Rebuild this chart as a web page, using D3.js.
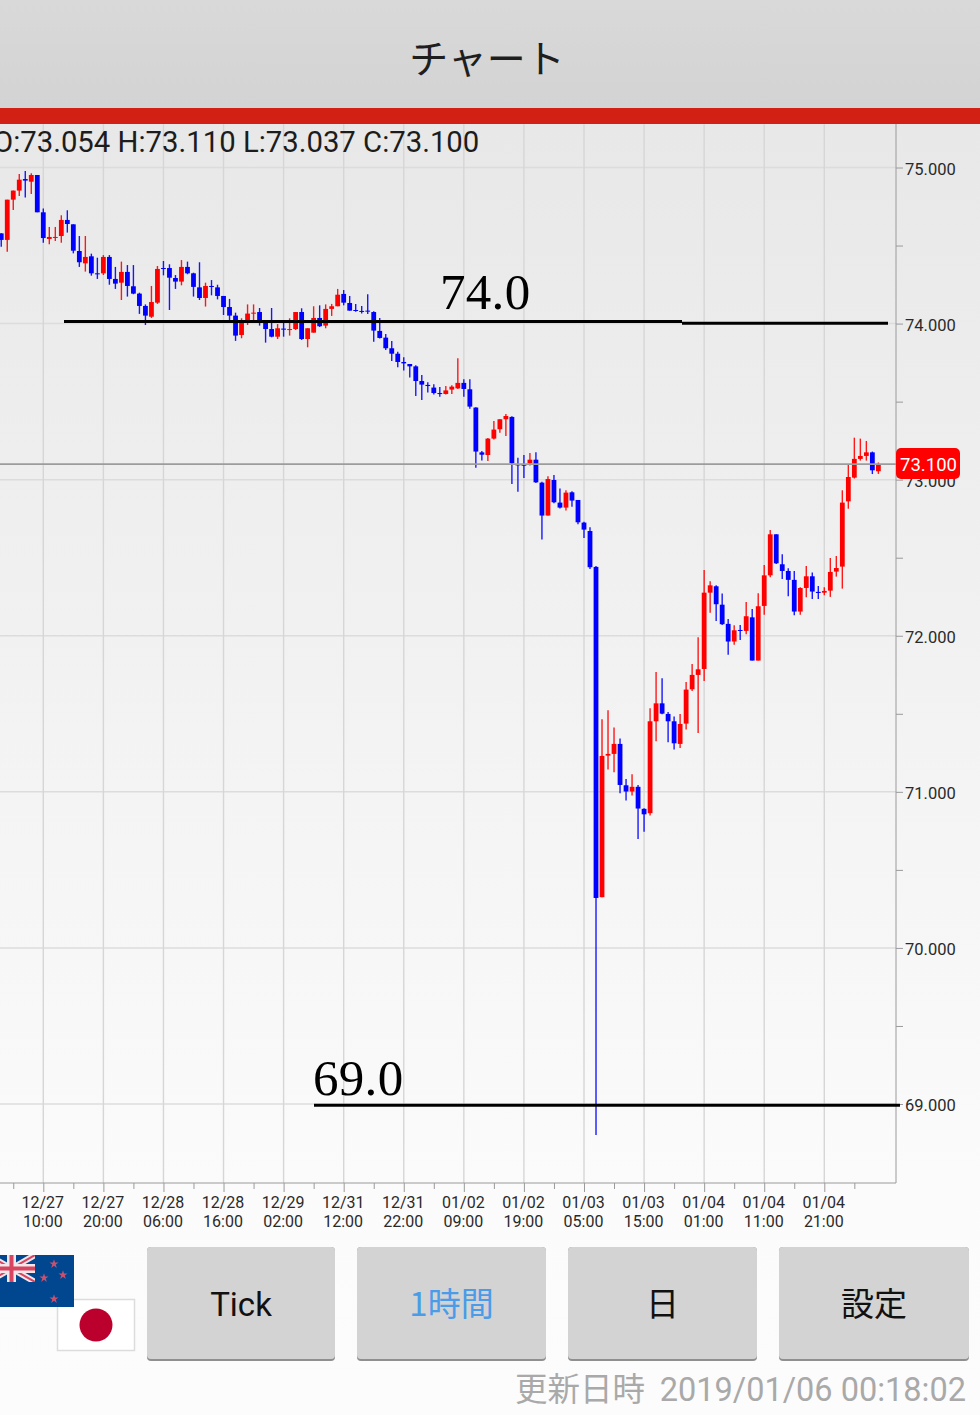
<!DOCTYPE html>
<html><head><meta charset="utf-8"><style>html,body{margin:0;padding:0;background:#fbfbfb;overflow:hidden}svg{display:block}</style>
<script src="https://cdn.jsdelivr.net/npm/d3@7"></script></head><body><svg id="c" width="980" height="1415"></svg>
<script>
const opens=[74.578,74.536,74.794,74.852,74.926,74.909,74.952,74.713,74.542,74.551,
74.561,74.664,74.636,74.465,74.386,74.431,74.322,74.322,74.427,74.286,
74.262,74.331,74.239,74.192,74.113,74.044,74.134,74.356,74.356,74.292,
74.269,74.363,74.322,74.232,74.164,74.241,74.232,74.177,74.106,74.051,
73.927,74.006,74.064,74.074,74.012,73.965,73.916,73.968,73.961,73.965,
74.074,73.901,73.942,74.036,73.987,74.094,74.111,74.190,74.132,74.087,
74.081,74.083,74.074,73.953,73.910,73.842,73.807,73.754,73.741,73.726,
73.632,73.607,73.590,73.555,73.549,73.577,73.585,73.620,73.579,73.462,
73.175,73.158,73.263,73.323,73.387,73.402,73.098,73.096,73.105,73.128,
72.981,72.770,72.998,72.853,72.821,72.919,72.870,72.725,72.671,72.441,
70.325,71.232,71.243,71.307,71.042,71.002,71.032,70.891,70.863,71.452,
71.567,71.499,71.452,71.307,71.437,71.657,71.749,71.787,72.276,72.317,
72.199,72.076,71.963,72.037,72.031,72.118,71.841,72.191,72.387,72.650,
72.458,72.415,72.358,72.155,72.306,72.381,72.281,72.276,72.289,72.411,
72.443,72.861,73.013,73.133,73.152,73.175,73.054];
const highs=[74.578,74.794,74.852,74.958,74.978,74.963,74.952,74.738,74.619,74.619,
74.694,74.726,74.636,74.561,74.561,74.448,74.422,74.439,74.439,74.363,
74.397,74.375,74.375,74.198,74.123,74.241,74.369,74.401,74.380,74.311,
74.407,74.397,74.326,74.393,74.262,74.279,74.249,74.177,74.158,74.070,
74.034,74.123,74.123,74.100,74.023,74.100,73.997,74.012,74.034,74.074,
74.098,73.970,74.111,74.117,74.123,74.126,74.222,74.215,74.177,74.126,
74.113,74.188,74.079,74.036,73.933,73.889,73.820,73.784,73.741,73.733,
73.671,73.624,73.611,73.594,73.600,73.605,73.778,73.643,73.643,73.464,
73.184,73.267,73.376,73.387,73.421,73.406,73.141,73.158,73.171,73.175,
72.987,73.022,73.030,72.943,72.932,72.926,72.870,72.731,72.695,72.447,
71.465,71.523,71.412,71.341,71.083,71.113,71.044,70.895,71.535,71.768,
71.728,71.512,71.482,71.499,71.704,71.819,71.990,72.422,72.349,72.323,
72.270,72.108,72.067,72.069,72.217,72.172,72.272,72.454,72.678,72.650,
72.522,72.432,72.415,72.311,72.447,72.405,72.319,72.311,72.498,72.511,
72.932,73.094,73.269,73.263,73.248,73.180,73.110];
const lows=[74.493,74.461,74.728,74.817,74.807,74.830,74.713,74.518,74.508,74.529,
74.518,74.583,74.450,74.363,74.333,74.307,74.286,74.311,74.249,74.222,
74.151,74.173,74.188,74.062,73.991,74.036,74.126,74.309,74.087,74.222,
74.245,74.316,74.173,74.151,74.109,74.181,74.155,74.055,74.023,73.889,
73.906,73.991,74.012,73.987,73.878,73.912,73.901,73.916,73.923,73.959,
73.895,73.848,73.942,73.978,73.970,74.049,74.111,74.117,74.083,74.076,
74.064,74.062,73.884,73.904,73.831,73.760,73.720,73.699,73.654,73.536,
73.511,73.558,73.545,73.532,73.545,73.549,73.581,73.532,73.455,73.077,
73.122,73.120,73.257,73.301,73.280,72.972,72.923,73.011,73.090,72.979,
72.616,72.770,72.849,72.815,72.802,72.827,72.714,72.627,72.428,68.802,
70.325,71.143,71.125,70.991,70.944,70.976,70.698,70.745,70.848,71.324,
71.497,71.318,71.271,71.281,71.399,71.646,71.377,71.710,72.148,72.095,
72.069,71.879,71.943,71.973,72.010,71.841,71.841,72.135,72.375,72.460,
72.364,72.253,72.131,72.135,72.247,72.236,72.236,72.259,72.249,72.379,
72.302,72.814,73.007,73.122,73.122,73.036,73.037];
const closes=[74.536,74.794,74.852,74.922,74.916,74.952,74.713,74.548,74.555,74.555,
74.664,74.638,74.467,74.393,74.427,74.322,74.316,74.427,74.286,74.256,
74.331,74.241,74.192,74.113,74.051,74.138,74.350,74.352,74.294,74.269,
74.363,74.322,74.235,74.164,74.241,74.235,74.177,74.106,74.051,73.923,
74.023,74.064,74.070,74.012,73.965,73.916,73.970,73.961,73.965,74.074,
73.901,73.970,74.036,73.983,74.094,74.111,74.185,74.134,74.083,74.081,
74.076,74.079,73.955,73.908,73.842,73.807,73.754,73.745,73.726,73.632,
73.609,73.600,73.555,73.549,73.572,73.596,73.620,73.581,73.468,73.180,
73.160,73.263,73.321,73.387,73.408,73.105,73.094,73.090,73.128,72.983,
72.770,73.004,72.855,72.821,72.917,72.866,72.727,72.680,72.439,70.320,
71.230,71.243,71.307,71.044,71.002,71.032,70.893,70.856,71.452,71.567,
71.501,71.452,71.311,71.435,71.655,71.749,71.785,72.276,72.323,72.202,
72.074,71.963,72.035,72.033,72.125,71.841,72.189,72.387,72.650,72.464,
72.415,72.358,72.155,72.306,72.381,72.283,72.274,72.287,72.409,72.434,
72.853,73.017,73.133,73.152,73.175,73.060,73.100];
const tickDates=["12/27","12/27","12/28","12/28","12/29","12/31","12/31","01/02","01/02","01/03","01/03","01/04","01/04","01/04"];
const tickTimes=["10:00","20:00","06:00","16:00","02:00","12:00","22:00","09:00","19:00","05:00","15:00","01:00","11:00","21:00"];
const priceTicks=[69,70,71,72,73,74,75];
const minorPriceTicks=[69.5,70.5,71.5,72.5,73.5,74.5];
const lastPrice=73.100;
const ohlcText="O:73.054 H:73.110 L:73.037 C:73.100";
const buttons=["Tick","1時間","日","設定"];

const svg=d3.select("#c");
const FONT="Roboto, sans-serif", CJK="'Noto Sans CJK JP', sans-serif", SERIF="'Liberation Serif', serif";
const plotR=896, plotB=1183, plotT=124;
const x=d3.scaleLinear().domain([7,137]).range([43.3,824.3]);
const y=d3.scaleLinear().domain([69,75]).range([1104,167.5]);

const defs=svg.append("defs");
const g1=defs.append("linearGradient").attr("id","bg").attr("x1",0).attr("x2",0).attr("y1",0).attr("y2",1);
g1.append("stop").attr("offset",0).attr("stop-color","#e8e8e8");
g1.append("stop").attr("offset",.82).attr("stop-color","#fbfbfb");
g1.append("stop").attr("offset",1).attr("stop-color","#fcfcfc");
const g2=defs.append("linearGradient").attr("id","hd").attr("x1",0).attr("x2",0).attr("y1",0).attr("y2",1);
g2.append("stop").attr("offset",0).attr("stop-color","#d9d9d9");
g2.append("stop").attr("offset",1).attr("stop-color","#d3d3d3");
defs.append("clipPath").attr("id","nz").append("rect").attr("x",0).attr("y",1255).attr("width",74).attr("height",52);
defs.append("clipPath").attr("id","uj").append("rect").attr("x",-12).attr("y",1255).attr("width",47).attr("height",27);

svg.append("rect").attr("x",0).attr("y",124).attr("width",980).attr("height",1291).attr("fill","url(#bg)");
svg.append("rect").attr("width",980).attr("height",108).attr("fill","url(#hd)");
svg.append("rect").attr("y",108).attr("width",980).attr("height",16).attr("fill","#d32014");
svg.append("text").attr("x",487).attr("y",73).attr("text-anchor","middle").attr("font-family",CJK).attr("font-size",39).attr("fill","#1e1e1e").text("チャート");

// grid
const idx=d3.range(opens.length);
const major=tickDates.map((d,i)=>7+i*10);
const minor=major.map(d=>d-5).concat([142]);
svg.append("g").selectAll("line").data(priceTicks).join("line")
 .attr("x1",0).attr("x2",plotR).attr("y1",d=>y(d)).attr("y2",d=>y(d)).attr("stroke","#dcdcdc").attr("stroke-width",1.5);
svg.append("g").selectAll("line").data(major).join("line")
 .attr("x1",d=>x(d)).attr("x2",d=>x(d)).attr("y1",plotT).attr("y2",plotB).attr("stroke","#d6d6d6").attr("stroke-width",1.4);

// x axis
const xAxis=d3.axisBottom(x).tickValues(major).tickSize(9).tickFormat("");
const gx=svg.append("g").attr("transform",`translate(0,${plotB})`).call(xAxis);
gx.select(".domain").remove();
gx.selectAll("line").attr("stroke","#9a9a9a").attr("stroke-width",1);
const gxm=svg.append("g").attr("transform",`translate(0,${plotB})`).call(d3.axisBottom(x).tickValues(minor).tickSize(6).tickFormat(""));
gxm.select(".domain").remove();
gxm.selectAll("line").attr("stroke","#9a9a9a").attr("stroke-width",1);
svg.append("line").attr("x1",0).attr("x2",plotR).attr("y1",plotB).attr("y2",plotB).attr("stroke","#9a9a9a").attr("stroke-width",1);
const xl=svg.append("g").attr("font-family",FONT).attr("font-size",16).attr("fill","#2a2a2a").attr("text-anchor","middle");
xl.selectAll("text.d").data(major).join("text").attr("class","d").attr("x",d=>x(d)-0.5).attr("y",1208).text((d,i)=>tickDates[i]);
xl.selectAll("text.t").data(major).join("text").attr("class","t").attr("x",d=>x(d)-0.5).attr("y",1227).text((d,i)=>tickTimes[i]);

// y axis
const gy=svg.append("g").attr("transform",`translate(${plotR},0)`).call(d3.axisRight(y).tickValues(priceTicks).tickSize(7).tickPadding(2).tickFormat(d3.format(".3f")));
gy.select(".domain").remove();
gy.selectAll("line").attr("stroke","#9a9a9a").attr("stroke-width",1);
gy.selectAll("text").attr("font-family",FONT).attr("font-size",16.5).attr("fill","#2a2a2a").attr("dy","0.4em");
const gym=svg.append("g").attr("transform",`translate(${plotR},0)`).call(d3.axisRight(y).tickValues(minorPriceTicks).tickSize(7).tickFormat(""));
gym.select(".domain").remove();
gym.selectAll("line").attr("stroke","#9a9a9a").attr("stroke-width",1);
svg.append("line").attr("x1",plotR).attr("x2",plotR).attr("y1",plotT).attr("y2",plotB).attr("stroke","#9a9a9a").attr("stroke-width",1);

// candles
const col=i=>closes[i]>=opens[i]?"#ff0000":"#0000ff";
svg.append("g").selectAll("line").data(idx).join("line")
 .attr("x1",i=>x(i)).attr("x2",i=>x(i)).attr("y1",i=>y(highs[i])).attr("y2",i=>y(lows[i]))
 .attr("stroke",col).attr("stroke-width",1.4).attr("stroke-opacity",.9);
svg.append("g").selectAll("rect").data(idx).join("rect")
 .attr("x",i=>x(i)-2.4).attr("width",4.8)
 .attr("y",i=>y(Math.max(opens[i],closes[i])))
 .attr("height",i=>Math.max(1,Math.abs(y(opens[i])-y(closes[i]))))
 .attr("fill",col);

// last price line & tag
svg.append("line").attr("x1",0).attr("x2",plotR).attr("y1",y(lastPrice)).attr("y2",y(lastPrice)).attr("stroke","#9c9c9c").attr("stroke-width",1.8);
svg.append("rect").attr("x",896).attr("y",y(lastPrice)-16).attr("width",64).attr("height",31).attr("rx",5).attr("fill","#fe0000");
svg.append("text").attr("x",928.5).attr("y",y(lastPrice)+7).attr("text-anchor","middle").attr("font-family",FONT).attr("font-size",18.5).attr("fill","#fff").text(d3.format(".3f")(lastPrice));

// OHLC
svg.append("text").attr("x",-7).attr("y",152).attr("font-family",FONT).attr("font-size",29.3).attr("fill","#1c1c1c").text(ohlcText);

// hand-drawn annotations
const ann=[{t:"74.0",tx:440,by:309},{t:"69.0",tx:313,by:1094.5}];
svg.append("g").selectAll("text").data(ann).join("text").attr("x",d=>d.tx).attr("y",d=>d.by)
 .attr("font-family",SERIF).attr("font-size",51).attr("letter-spacing",0.3).attr("fill","#000").text(d=>d.t);
const annLines=[{a:64,b:682,p:74.014},{a:682,b:888,p:74.002},{a:314,b:900,p:68.992}];
svg.append("g").selectAll("line").data(annLines).join("line")
 .attr("x1",d=>d.a).attr("x2",d=>d.b).attr("y1",d=>y(d.p)).attr("y2",d=>y(d.p)).attr("stroke","#000").attr("stroke-width",3);

// flags
svg.append("rect").attr("x",57.5).attr("y",1299.5).attr("width",77).attr("height",51).attr("fill","#fff").attr("stroke","#dcdcdc").attr("stroke-width",1.5);
svg.append("circle").attr("cx",96).attr("cy",1325).attr("r",16.5).attr("fill","#bc002d");
const nz=svg.append("g").attr("clip-path","url(#nz)");
nz.append("rect").attr("x",0).attr("y",1255).attr("width",74).attr("height",52).attr("fill","#00478f");
const uj=nz.append("g").attr("clip-path","url(#uj)");
[[-12,1255,35,1282],[-12,1282,35,1255]].forEach(l=>{
 uj.append("line").attr("x1",l[0]).attr("y1",l[1]).attr("x2",l[2]).attr("y2",l[3]).attr("stroke","#f3e6ea").attr("stroke-width",6);
 uj.append("line").attr("x1",l[0]).attr("y1",l[1]).attr("x2",l[2]).attr("y2",l[3]).attr("stroke","#d8435f").attr("stroke-width",2);
});
uj.append("rect").attr("x",-12).attr("y",1264).attr("width",47).attr("height",9).attr("fill","#f3e6ea");
uj.append("rect").attr("x",7).attr("y",1255).attr("width",9).attr("height",27).attr("fill","#f3e6ea");
uj.append("rect").attr("x",-12).attr("y",1266.5).attr("width",47).attr("height",4).attr("fill","#d8435f");
uj.append("rect").attr("x",9.5).attr("y",1255).attr("width",4).attr("height",27).attr("fill","#d8435f");
[[54,1264],[44,1278],[63,1275],[54,1299]].forEach(s=>{
 nz.append("path").attr("transform",`translate(${s[0]},${s[1]})`).attr("d",d3.symbol(d3.symbolStar,26)()).attr("fill","#c9506e");
});

// buttons
const btnX=[147,357,568,779], btnW=[188,189,189,190];
const bg=svg.append("g").selectAll("g").data(buttons).join("g");
bg.append("rect").attr("x",(d,i)=>btnX[i]).attr("y",1247).attr("width",(d,i)=>btnW[i]).attr("height",114).attr("rx",4).attr("fill","#8f8f8f");
bg.append("rect").attr("x",(d,i)=>btnX[i]).attr("y",1247).attr("width",(d,i)=>btnW[i]).attr("height",112).attr("rx",4).attr("fill","#d3d3d3");
bg.append("text").attr("x",(d,i)=>btnX[i]+btnW[i]/2).attr("y",1316).attr("text-anchor","middle")
 .attr("font-family",(d,i)=>i===0?FONT:CJK).attr("font-size",33).attr("fill",(d,i)=>i===1?"#4a9be8":"#111").text(d=>d);

// footer
svg.append("text").attr("x",515).attr("y",1401).attr("font-family",CJK).attr("font-size",32.5).attr("fill","#a9a9a9").text("更新日時");
svg.append("text").attr("x",966).attr("y",1401).attr("text-anchor","end").attr("font-family",FONT).attr("font-size",32.5).attr("fill","#a9a9a9").text("2019/01/06 00:18:02");
</script></body></html>
